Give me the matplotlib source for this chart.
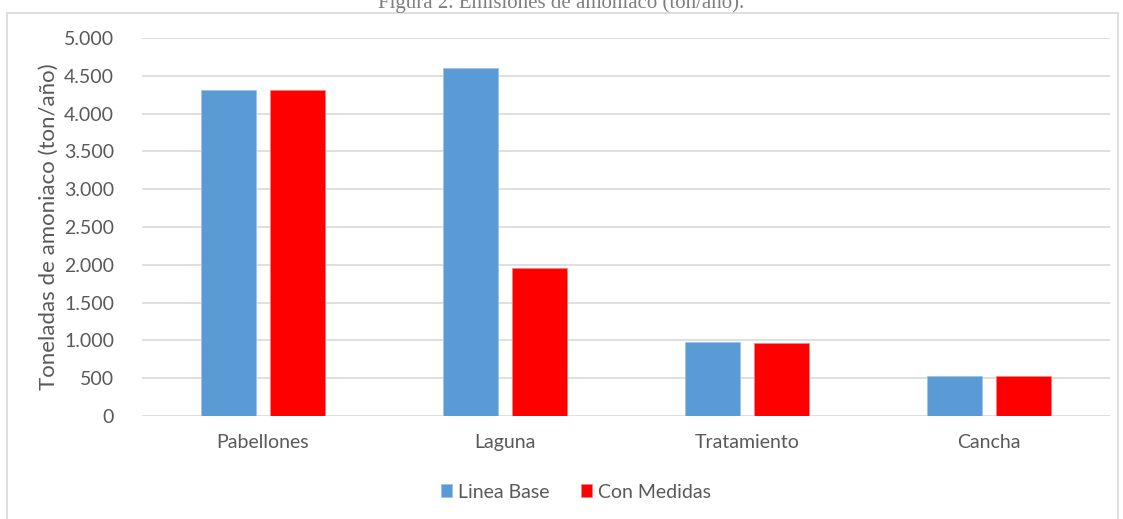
import matplotlib
matplotlib.use("Agg")
import matplotlib.pyplot as plt
import numpy as np
from matplotlib.patches import Rectangle

categories = ["Pabellones", "Laguna", "Tratamiento", "Cancha"]
linea_base = [4310, 4600, 985, 530]
con_medidas = [4310, 1955, 968, 530]
series_names = ["Linea Base", "Con Medidas"]
yticks = [0, 500, 1000, 1500, 2000, 2500, 3000, 3500, 4000, 4500, 5000]
ytick_labels = ["0", "500", "1.000", "1.500", "2.000", "2.500", "3.000", "3.500", "4.000", "4.500", "5.000"]

plt.rcParams['font.family'] = ['Lato', 'DejaVu Sans']
W, H = 1123, 519
fig = plt.figure(figsize=(W/100, H/100), dpi=100)
ax = fig.add_axes([142/W, 1-416/H, 968/W, (416-38)/H])

x = np.arange(len(categories))
bw = 0.227
off = 0.1426
ax.bar(x - off, linea_base, bw, color="#5B9BD5", label=series_names[0], zorder=3,
       edgecolor="#9DC3E6", linewidth=0.6)
ax.bar(x + off, con_medidas, bw, color="#FF0000", label=series_names[1], zorder=3,
       edgecolor="#FF8080", linewidth=0.6)

ax.set_xlim(-0.5, len(categories) - 0.5)
ax.set_ylim(0, 5000)
ax.set_yticks(yticks)
ax.set_yticklabels(ytick_labels)
ax.set_xticks(x)
ax.set_xticklabels(categories)
ax.grid(axis='y', color="#D9D9D9", linewidth=1.2, zorder=0)
for s in ax.spines.values():
    s.set_visible(False)
ax.tick_params(axis='both', length=0, labelsize=14, colors="#595959")
ax.tick_params(axis='y', pad=20)
ax.tick_params(axis='x', pad=13)
ax.set_ylabel("Toneladas de amoniaco (ton/año)", fontsize=16, color="#595959", labelpad=4)

leg = fig.legend(loc='center', bbox_to_anchor=(576/W, 1-492/H), ncol=2, frameon=False,
                 fontsize=14, handlelength=0.6, handleheight=0.6, handletextpad=0.3,
                 columnspacing=1.6)
for t in leg.get_texts():
    t.set_color("#595959")

# outer chart border (bottom edge lies below the picture, as in the reference)
fig.patches.append(Rectangle((7/W, 1-530/H), (1118-7)/W, (530-13)/H, transform=fig.transFigure,
                             fill=False, edgecolor="#D9D9D9", linewidth=1.2))
fig.text(0.5, 1-3/H, "Figura 2. Emisiones de amoníaco (ton/año).", ha='center', va='center',
         fontsize=15, color="#7F7F7F", family="Liberation Serif")

fig.savefig("out.png", dpi=100)
